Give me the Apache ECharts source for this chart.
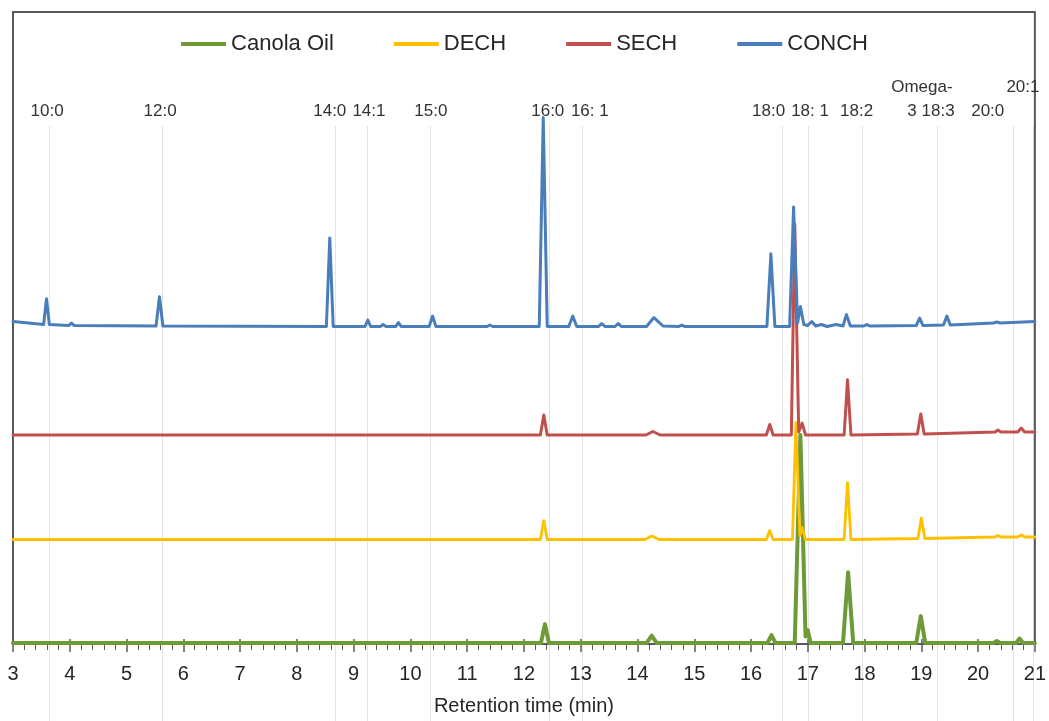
<!DOCTYPE html>
<html>
<head>
<meta charset="utf-8">
<script src="https://cdn.jsdelivr.net/npm/echarts@6/dist/echarts.min.js"></script>
<style>
html,body{margin:0;padding:0;background:#fff;}
#chart{width:1049px;height:721px;}
</style>
</head>
<body>
<div id="chart"></div>
<script>
// ---- Data (retention time in min, detector response in arbitrary offset units) ----
const seriesNames = ['Canola Oil', 'DECH', 'SECH', 'CONCH'];

const canolaData = [
  [3.00,0.2],[12.30,0.2],[12.37,4.0],[12.44,0.2],[14.16,0.2],[14.25,1.7],[14.34,0.2],
  [16.29,0.2],[16.36,1.8],[16.43,0.2],[16.77,0.2],[16.87,42.0],[16.96,1.5],[17.00,2.8],[17.05,0.2],
  [17.62,0.2],[17.71,14.4],[17.80,0.2],[18.91,0.2],[18.99,5.6],[19.07,0.2],
  [20.27,0.2],[20.33,0.6],[20.39,0.2],[20.67,0.2],[20.73,1.1],[20.79,0.2],[21.00,0.2]
];

const dechData = [
  [3.00,21.0],[12.29,21.0],[12.35,24.8],[12.41,21.0],[14.13,21.0],[14.25,21.7],[14.38,21.0],
  [16.27,21.0],[16.33,22.8],[16.39,21.0],[16.73,21.0],[16.79,44.5],[16.86,21.8],[16.90,23.4],[16.96,21.0],
  [17.64,21.0],[17.70,32.4],[17.76,21.0],[18.94,21.2],[19.00,25.3],[19.06,21.2],
  [20.30,21.5],[20.35,21.8],[20.40,21.5],[20.70,21.5],[20.76,21.9],[20.82,21.5],[21.00,21.5]
];

const sechData = [
  [3.00,42.0],[12.29,42.0],[12.35,46.0],[12.41,42.0],[14.15,42.0],[14.27,42.7],[14.40,42.0],
  [16.27,42.0],[16.33,44.1],[16.39,42.0],[16.71,42.0],[16.77,84.4],[16.84,42.6],[16.90,44.4],[16.96,42.0],
  [17.64,42.0],[17.70,53.1],[17.76,42.0],[18.93,42.2],[18.99,46.2],[19.05,42.2],
  [20.30,42.6],[20.35,43.0],[20.40,42.6],[20.70,42.6],[20.76,43.4],[20.82,42.6],[21.00,42.6]
];

const conchData = [
  [3.00,64.8],[3.45,64.3],[3.54,64.2],[3.59,69.4],[3.64,64.2],[3.98,64.0],[4.03,64.5],[4.08,64.0],
  [5.52,63.9],[5.58,69.8],[5.64,63.9],[8.52,63.8],[8.58,81.6],[8.64,63.8],
  [9.20,63.8],[9.25,65.1],[9.30,63.8],[9.47,63.8],[9.52,64.2],[9.57,63.8],[9.74,63.8],[9.79,64.6],[9.84,63.8],
  [10.33,63.8],[10.39,65.9],[10.45,63.8],[11.35,63.8],[11.40,64.1],[11.45,63.8],
  [12.27,63.8],[12.34,105.8],[12.41,63.8],[12.79,63.8],[12.86,65.9],[12.93,63.8],
  [13.31,63.8],[13.37,64.4],[13.43,63.8],[13.60,63.8],[13.66,64.4],[13.72,63.8],
  [14.16,63.8],[14.29,65.6],[14.45,63.9],[14.72,63.8],[14.78,64.1],[14.84,63.8],
  [16.28,63.8],[16.35,78.4],[16.42,63.8],[16.68,63.8],[16.75,87.8],[16.82,64.5],[16.87,67.8],[16.93,64.2],
  [17.00,64.0],[17.07,64.8],[17.14,63.9],[17.24,64.2],[17.34,63.8],[17.50,64.2],[17.62,63.9],
  [17.68,66.2],[17.75,63.9],[17.98,63.9],[18.04,64.2],[18.10,63.9],[18.91,64.0],[18.97,65.5],[19.03,64.0],
  [19.39,64.1],[19.45,65.9],[19.51,64.1],[20.27,64.5],[20.33,64.7],[20.39,64.5],[21.00,64.8]
];

// Peak annotation labels: text, label centre time, row (1 = lower, 2 = upper)
const peakLabels = ['10:0','12:0','14:0','14:1','15:0','16:0','16: 1','18:0','18: 1','18:2','Omega-','3 18:3','20:0','20:1'];
const peakLabelTimes = [3.60,5.59,8.58,9.27,10.36,12.42,13.16,16.31,17.04,17.86,19.01,19.17,20.17,20.79];
const peakLabelRows = [1,1,1,1,1,1,1,1,1,1,2,1,1,2];
// Reference (marker) line times
const markerTimes = [3.64,5.62,8.67,9.23,10.34,12.45,13.02,16.54,17.00,17.95,19.27,20.62,20.97];

const xTicksMin = 3, xTicksMax = 21, xTickStep = 1;

const colors = ['#6f9a38', '#ffc000', '#c0504d', '#4a7ebb'];
const widths = [4, 2.8, 3, 3];
const allData = [canolaData, dechData, sechData, conchData];

const chart = echarts.init(document.getElementById('chart'), null, {renderer: 'canvas'});

const option = {
  animation: false,
  backgroundColor: '#ffffff',
  color: colors,
  legend: {
    data: seriesNames,
    top: 28,
    left: 'center',
    icon: 'rect',
    itemWidth: 45,
    itemHeight: 4,
    itemGap: 60,
    textStyle: {fontFamily: 'Liberation Sans', fontSize: 22, color: '#262626'}
  },
  grid: {
    left: 13, right: 14, top: 12, bottom: 74,
    show: true, borderColor: '#595959', borderWidth: 2, backgroundColor: 'transparent'
  },
  xAxis: [{
    type: 'value', min: xTicksMin, max: xTicksMax, interval: xTickStep,
    name: 'Retention time (min)', nameLocation: 'middle', nameGap: 52,
    nameTextStyle: {fontFamily: 'Liberation Sans', fontSize: 20, color: '#262626'},
    axisLine: {show: true, lineStyle: {color: '#595959', width: 1.5}},
    axisTick: {show: true, inside: false, length: 8, lineStyle: {color: '#595959', width: 1.5}},
    minorTick: {show: true, splitNumber: 5, length: 6, lineStyle: {color: '#595959', width: 1}},
    axisLabel: {fontFamily: 'Liberation Sans', fontSize: 20, color: '#262626', margin: 20},
    splitLine: {show: false}, minorSplitLine: {show: false}
  }, {
    type: 'value', min: xTicksMin, max: xTicksMax, interval: xTickStep, position: 'bottom',
    axisLine: {show: false},
    axisTick: {show: true, inside: true, length: 5, lineStyle: {color: '#595959', width: 1.5}},
    axisLabel: {show: false}, splitLine: {show: false}
  }],
  yAxis: {
    type: 'value', min: 0, max: 127, show: false, splitLine: {show: false}
  },
  series: seriesNames.map((n, i) => ({
    name: n, type: 'line', data: allData[i], showSymbol: false, symbol: 'none',
    clip: false, z: 3 + i,
    lineStyle: {color: colors[i], width: widths[i], join: 'round', cap: 'round'},
    itemStyle: {color: colors[i]}
  }))
};
chart.setOption(option);

// Annotation labels and thin marker lines positioned via the x axis scale
const rowY = {1: 111, 2: 87};
const elements = [];
markerTimes.forEach(t => {
  const x = Math.round(chart.convertToPixel({xAxisIndex: 0}, t)) + 0.5;
  elements.push({type: 'line', silent: true, z: -10,
    shape: {x1: x, y1: 126, x2: x, y2: 721},
    style: {stroke: '#e3e3e3', lineWidth: 1}});
});
peakLabels.forEach((txt, i) => {
  const x = chart.convertToPixel({xAxisIndex: 0}, peakLabelTimes[i]);
  elements.push({type: 'text', silent: true, z: 10, x: x, y: rowY[peakLabelRows[i]],
    style: {text: txt, fill: '#333333', font: '17px "Liberation Sans"', textAlign: 'center', textVerticalAlign: 'middle'}});
});
chart.setOption({graphic: {elements: elements}});
</script>
</body>
</html>
